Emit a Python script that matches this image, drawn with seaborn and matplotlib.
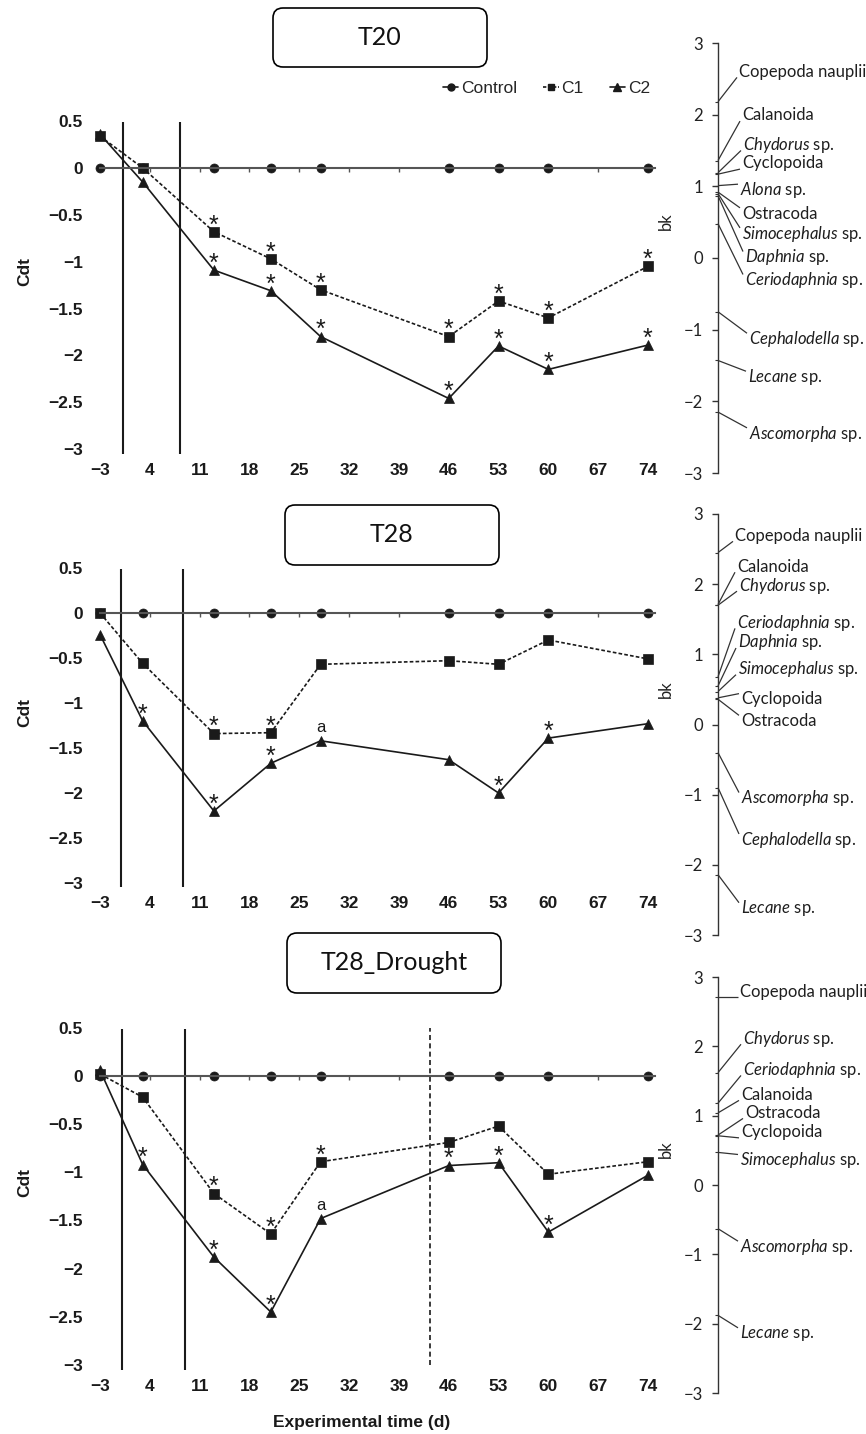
import matplotlib
matplotlib.use("Agg")
import matplotlib.pyplot as plt
import matplotlib.transforms as mtransforms
from matplotlib.patches import FancyBboxPatch
from matplotlib.lines import Line2D
import seaborn as sns
import pandas as pd

sns.set_theme(style="white")
plt.rcParams["font.family"] = ["Liberation Sans", "DejaVu Sans"]
plt.rcParams["mathtext.fontset"] = "custom"
plt.rcParams["mathtext.it"] = "Lato:italic"
plt.rcParams["mathtext.rm"] = "Lato"

# ---------------- data ----------------
days = [-3, 3, 13, 21, 28, 46, 53, 60, 74]
tick_days = [-3, 4, 11, 18, 25, 32, 39, 46, 53, 60, 67, 74]
treatments = ["Control", "C1", "C2"]

control = [0, 0, 0, 0, 0, 0, 0, 0, 0]

t20_c1 = [0.34, 0.00, -0.68, -0.97, -1.30, -1.80, -1.42, -1.60, -1.05]
t20_c2 = [0.36, -0.15, -1.09, -1.31, -1.80, -2.46, -1.90, -2.15, -1.89]
t20_sig_c1 = [13, 21, 28, 46, 53, 60, 74]
t20_sig_c2 = [13, 21, 28, 46, 53, 60, 74]
t20_a_c2 = []

t28_c1 = [0.00, -0.56, -1.34, -1.33, -0.57, -0.53, -0.57, -0.30, -0.51]
t28_c2 = [-0.24, -1.20, -2.20, -1.67, -1.42, -1.63, -2.00, -1.39, -1.23]
t28_sig_c1 = [13, 21]
t28_sig_c2 = [3, 13, 21, 53, 60]
t28_a_c2 = [28]

dr_c1 = [0.02, -0.22, -1.22, -1.64, -0.89, -0.69, -0.52, -1.02, -0.89]
dr_c2 = [0.06, -0.92, -1.88, -2.45, -1.48, -0.93, -0.90, -1.62, -1.03]
dr_sig_c1 = [13, 21, 28]
dr_sig_c2 = [3, 13, 21, 46, 53, 60]
dr_a_c2 = [28]

# species weights (bk)
t20_taxa = ["Copepoda nauplii", "Calanoida", "Chydorus sp.", "Cyclopoida", "Alona sp.",
            "Ostracoda", "Simocephalus sp.", "Daphnia sp.", "Ceriodaphnia sp.",
            "Cephalodella sp.", "Lecane sp.", "Ascomorpha sp."]
t20_bk = [2.18, 1.36, 1.19, 1.17, 1.01, 0.92, 0.90, 0.87, 0.48, -0.75, -1.43, -2.15]

t28_taxa = ["Copepoda nauplii", "Calanoida", "Chydorus sp.", "Ceriodaphnia sp.",
            "Daphnia sp.", "Simocephalus sp.", "Cyclopoida", "Ostracoda",
            "Ascomorpha sp.", "Cephalodella sp.", "Lecane sp."]
t28_bk = [2.45, 1.71, 1.70, 0.68, 0.55, 0.47, 0.38, 0.36, -0.40, -0.90, -2.14]

dr_taxa = ["Copepoda nauplii", "Chydorus sp.", "Ceriodaphnia sp.", "Calanoida",
           "Ostracoda", "Cyclopoida", "Simocephalus sp.", "Ascomorpha sp.", "Lecane sp."]
dr_bk = [2.71, 1.62, 1.18, 1.04, 0.72, 0.71, 0.47, -0.63, -1.88]

# label placement for the species columns (bk units, pixel offset from axis)
t20_lab_y = [2.60, 1.99, 1.58, 1.32, 0.95, 0.62, 0.34, 0.01, -0.31, -1.13, -1.66, -2.45]
t20_lab_x = [21, 24, 25, 24, 22, 24, 24, 27, 27, 31, 30, 31]
t28_lab_y = [2.69, 2.25, 1.98, 1.45, 1.17, 0.79, 0.36, 0.05, -1.05, -1.64, -2.62]
t28_lab_x = [17, 19, 21, 19, 20, 20, 23, 23, 23, 23, 23]
dr_lab_y = [2.79, 2.11, 1.66, 1.30, 1.04, 0.76, 0.36, -0.89, -2.14]
dr_lab_x = [22, 25, 25, 23, 27, 23, 22, 22, 22]

# ---------------- layout ----------------
W, H = 866, 1434
fig = plt.figure(figsize=(W / 100, H / 100), dpi=100)
INK = "#1a1a1a"


def rect(l, t, r, b):
    return [l / W, 1 - b / H, (r - l) / W, (b - t) / H]


def taxon_label(name):
    if name.endswith(" sp."):
        return r"$\mathit{" + name[:-4] + "}$ sp."
    return name


def prc_panel(box, c1, c2, sig_c1, sig_c2, a_c2, events, drought=None):
    ax = fig.add_axes(rect(*box))
    df = pd.DataFrame({
        "day": days * 3,
        "cdt": control + c1 + c2,
        "treatment": ["Control"] * 9 + ["C1"] * 9 + ["C2"] * 9,
    })
    sns.lineplot(data=df, x="day", y="cdt", style="treatment", style_order=treatments,
                 markers={"Control": "o", "C1": "s", "C2": "^"},
                 dashes={"Control": "", "C1": (2.2, 1.3), "C2": ""},
                 color=INK, markersize=6.5, markeredgecolor=INK, markeredgewidth=0.5,
                 linewidth=1.2, estimator=None, legend=False, ax=ax)
    ax.set_xlim(-5, 76)
    ax.set_ylim(-3.1, 0.6)

    for x in events:
        ax.vlines(x, -3.05, 0.49, colors=INK, linewidth=1.5)
    if drought is not None:
        ax.vlines(drought, -3.0, 0.5, colors=INK, linewidth=1.2, linestyles=(0, (3, 2)))

    for series, sig in ((c1, sig_c1), (c2, sig_c2)):
        for d in sig:
            ax.annotate("*", (d, series[days.index(d)]), xytext=(0, -0.5),
                        textcoords="offset points", ha="center", va="baseline",
                        fontsize=18, color=INK)
    for d in a_c2:
        ax.annotate("a", (d, c2[days.index(d)]), xytext=(0, 6),
                    textcoords="offset points", ha="center", va="baseline",
                    fontsize=12, color=INK)

    for s in ("top", "right", "left"):
        ax.spines[s].set_visible(False)
    ax.spines["bottom"].set_position(("data", 0))
    ax.spines["bottom"].set_bounds(-3, 75)
    ax.spines["bottom"].set_color("#555555")
    ax.spines["bottom"].set_linewidth(1.5)
    ax.set_xticks(tick_days)
    ax.tick_params(axis="x", direction="out", length=3, width=1, color="#555555",
                   labelbottom=False, bottom=True)
    yt = [0.5, 0, -0.5, -1, -1.5, -2, -2.5, -3]
    ax.set_yticks(yt)
    ax.set_yticklabels([("%g" % v).replace("-", "\u2212") for v in yt],
                       fontweight="bold", fontsize=12.5, color=INK)
    ax.tick_params(axis="y", length=0, pad=2)
    ax.set_xlabel("")
    ax.set_ylabel("Cdt", fontweight="bold", fontsize=12.5, color=INK)
    ax.yaxis.set_label_coords(-0.093, 0.54)

    sec = ax.secondary_xaxis(0)
    sec.set_xticks(tick_days)
    sec.set_xticklabels([str(d).replace("-", "\u2212") for d in tick_days],
                        fontweight="bold", fontsize=12.5, color=INK)
    sec.tick_params(length=0, pad=3)
    sec.spines["bottom"].set_visible(False)
    return ax


def bk_panel(box, taxa, bk, lab_y, lab_x):
    ax = fig.add_axes(rect(*box))
    ax.set_xlim(0, box[2] - box[0])
    ax.set_ylim(-3, 3)
    for s in ("top", "right", "bottom"):
        ax.spines[s].set_visible(False)
    ax.spines["left"].set_color("#333333")
    ax.spines["left"].set_linewidth(1.0)
    ax.set_xticks([])
    ticks = [3, 2, 1, 0, -1, -2, -3]
    ax.set_yticks(ticks)
    ax.set_yticklabels([str(t).replace("-", "\u2212") for t in ticks],
                       fontfamily="Lato", fontsize=12, color="#222222")
    ax.set_yticks(bk, minor=True)
    ax.tick_params(axis="y", which="major", direction="out", length=4, width=1,
                   color="#333333", pad=7, left=True)
    ax.tick_params(axis="y", which="minor", direction="out", length=2.5, width=0.8,
                   color="#333333", left=True)
    ax.set_ylabel("bk", fontfamily="Lato", fontsize=12, color="#222222")
    ax.yaxis.set_label_coords(-0.30, 0.585)
    for name, b, ly, lx in zip(taxa, bk, lab_y, lab_x):
        end_y = ly - 0.08 * (1 if ly > b else -1)
        ax.plot([0, lx - 2], [b, end_y], color="#333333", linewidth=0.9,
                clip_on=False, solid_capstyle="butt")
        ax.text(lx, ly, taxon_label(name), ha="left", va="center", fontsize=12,
                fontfamily="Lato", color="#1f1f1f", clip_on=False)
    return ax


def title_box(l, t, r, b, label):
    patch = FancyBboxPatch((l, H - b), r - l, b - t,
                           boxstyle="round,pad=0,rounding_size=10",
                           transform=mtransforms.IdentityTransform(),
                           facecolor="white", edgecolor="black", linewidth=1.2)
    fig.add_artist(patch)
    fig.text((l + r) / 2 / W, 1 - (t + b) / 2 / H, label, ha="center", va="center",
             fontsize=18, fontfamily="Lato", color="#111111")


# left panels: x(-3)=100 px, x(74)=648 px
L, R = 85.8, 662.2
prc_panel((L, 111.8, R, 458.4), t20_c1, t20_c2, t20_sig_c1, t20_sig_c2, t20_a_c2,
          events=[0.2, 8.3])
prc_panel((L, 559.0, R, 892.0), t28_c1, t28_c2, t28_sig_c1, t28_sig_c2, t28_a_c2,
          events=[0.0, 8.7])
prc_panel((L, 1018.2, R, 1374.6), dr_c1, dr_c2, dr_sig_c1, dr_sig_c2, dr_a_c2,
          events=[0.1, 9.0], drought=43.4)

fig.text(362 / W, 1 - 1423 / H, "Experimental time (d)", ha="center", va="center",
         fontsize=12.5, fontweight="bold", color=INK)

# right panels
bk_panel((718, 43, 866, 473), t20_taxa, t20_bk, t20_lab_y, t20_lab_x)
bk_panel((718, 514, 866, 935), t28_taxa, t28_bk, t28_lab_y, t28_lab_x)
bk_panel((718, 977, 866, 1393), dr_taxa, dr_bk, dr_lab_y, dr_lab_x)

title_box(273, 8, 487, 67, "T20")
title_box(285, 505, 499, 565, "T28")
title_box(287, 933, 501, 993, "T28_Drought")

handles = [
    Line2D([], [], color=INK, marker="o", markersize=5, linewidth=1.2),
    Line2D([], [], color=INK, marker="s", markersize=5, linewidth=1.2, linestyle=(0, (2, 1))),
    Line2D([], [], color=INK, marker="^", markersize=5.5, linewidth=1.2),
]
fig.legend(handles, treatments, loc="center right", bbox_to_anchor=(650 / W, 1 - 88 / H),
           ncol=3, frameon=False, fontsize=12.5, handlelength=0.9, handletextpad=0.15,
           columnspacing=1.5, borderpad=0, borderaxespad=0)

fig.savefig("out.png", dpi=100, facecolor="white")
